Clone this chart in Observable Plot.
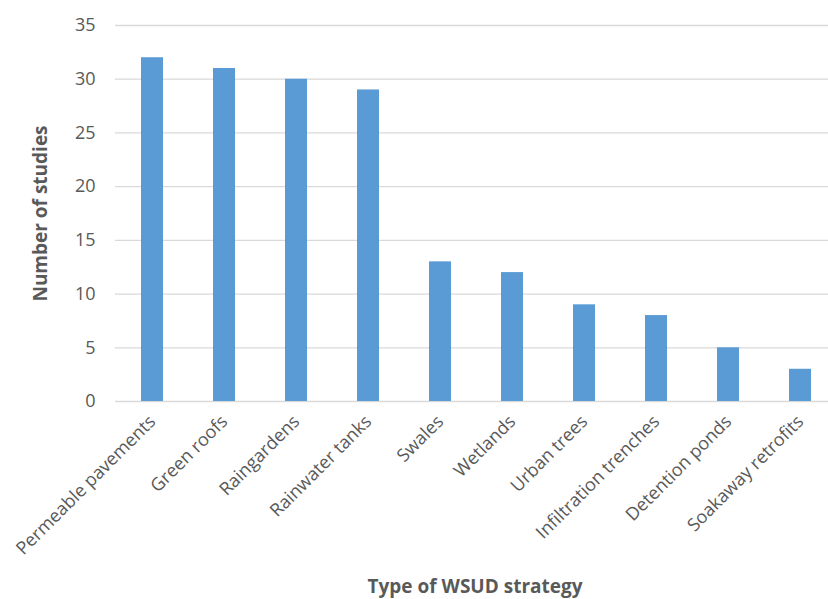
<!DOCTYPE html>
<html>
<head>
<meta charset="utf-8">
<script src="https://cdn.jsdelivr.net/npm/d3@7"></script>
<script src="https://cdn.jsdelivr.net/npm/@observablehq/plot@0.6"></script>
<style>
  html, body { margin: 0; padding: 0; background: #fff; }
  #chart svg { display: block; }
</style>
</head>
<body>
<div id="chart"></div>
<script>
const categories = ["Permeable pavements", "Green roofs", "Raingardens", "Rainwater tanks", "Swales", "Wetlands", "Urban trees", "Infiltration trenches", "Detention ponds", "Soakaway retrofits"];
const studies = [32, 31, 30, 29, 13, 12, 9, 8, 5, 3];
const yTicks = [0, 5, 10, 15, 20, 25, 30, 35];

const data = categories.map((c, i) => ({category: c, value: studies[i]}));

const font = "'Open Sans', 'Liberation Sans', sans-serif";
const chart = Plot.plot({
  width: 828,
  height: 599,
  marginTop: 25,
  marginBottom: 198,
  marginLeft: 115,
  marginRight: 0,
  style: {fontFamily: font, fontSize: "18px", color: "#595959", background: "#fff"},
  x: {domain: categories, range: [115, 838], paddingInner: 0.69, paddingOuter: 0.345, label: null},
  y: {domain: [0, 35], label: null},
  marks: [
    Plot.ruleY(yTicks, {stroke: "#d9d9d9", strokeWidth: 1.3}),
    Plot.barY(data, {x: "category", y: "value", fill: "#5B9BD5"}),
    Plot.axisY(yTicks, {tickSize: 0, tickPadding: 20, fontSize: 18, fill: "#595959", label: null}),
    Plot.axisX({tickSize: 0, tickPadding: 17, tickRotate: -45, fontSize: 18, fill: "#595959", label: null}),
    Plot.text(["Number of studies"], {frameAnchor: "left", dx: -75, rotate: -90, textAnchor: "middle", fontWeight: "bold", fontSize: 19, fill: "#595959"}),
    Plot.text(["Type of WSUD strategy"], {frameAnchor: "bottom", dx: 3, dy: 191, lineAnchor: "bottom", fontWeight: "bold", fontSize: 19, fill: "#595959"})
  ]
});
document.getElementById("chart").appendChild(chart);
</script>
</body>
</html>
